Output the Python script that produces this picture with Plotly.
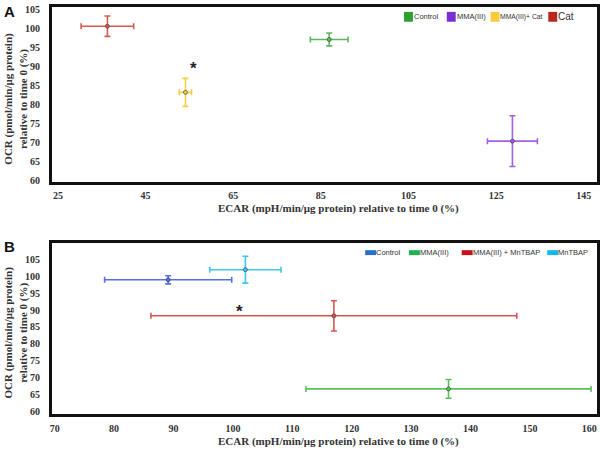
import plotly.graph_objects as go

# ---------------- Panel A data ----------------
a_names = ["Control", "MMA(III)", "MMA(III)+ Cat", "Cat"]
a_ecar = [86.9, 128.7, 54.1, 36.3]
a_ecar_err = [4.3, 5.7, 1.4, 6.0]
a_ocr = [97.2, 70.3, 83.2, 100.7]
a_ocr_err = [1.7, 6.7, 3.7, 2.7]
a_xticks = [25, 45, 65, 85, 105, 125, 145]
a_yticks = [60, 65, 70, 75, 80, 85, 90, 95, 100, 105]
a_sig_x = [56.0]
a_sig_y = [90.3]

# ---------------- Panel B data ----------------
b_names = ["Control", "MMA(III)", "MMA(III) + MnTBAP", "MnTBAP"]
b_ecar = [89.1, 136.3, 117.0, 102.1]
b_ecar_err = [10.7, 24.0, 30.8, 6.0]
b_ocr = [99.0, 66.6, 88.3, 102.0]
b_ocr_err = [1.2, 2.8, 4.5, 4.0]
b_xticks = [70, 80, 90, 100, 110, 120, 130, 140, 150, 160]
b_yticks = [60, 65, 70, 75, 80, 85, 90, 95, 100, 105]
b_sig_x = [101.1]
b_sig_y = [90.6]

a_line_colors = ["#5cb85c", "#a35ee8", "#f3cf45", "#d45a50"]
a_legend_colors = ["#2e9e2e", "#7a2fd6", "#ffc83d", "#b8281e"]
b_line_colors = ["#5470e6", "#5cc05c", "#d9534f", "#3cc8f0"]
b_legend_colors = ["#2a6fc8", "#1db34a", "#c8101a", "#18b4f0"]

W, H = 600, 453
def px(x):
    return x / W
def py(y):
    return 1 - y / H

fig = go.Figure()

for i, n in enumerate(a_names):
    fig.add_trace(go.Scatter(
        x=[a_ecar[i]], y=[a_ocr[i]], mode="markers", name=n, showlegend=False,
        marker=dict(color=a_line_colors[i], size=4, line=dict(color="#333", width=0.6)),
        error_x=dict(type="data", array=[a_ecar_err[i]], color=a_line_colors[i], thickness=1.6, width=3),
        error_y=dict(type="data", array=[a_ocr_err[i]], color=a_line_colors[i], thickness=1.6, width=3),
        xaxis="x", yaxis="y"))

for i, n in enumerate(b_names):
    fig.add_trace(go.Scatter(
        x=[b_ecar[i]], y=[b_ocr[i]], mode="markers", name=n, showlegend=False,
        marker=dict(color=b_line_colors[i], size=4, line=dict(color="#333", width=0.6)),
        error_x=dict(type="data", array=[b_ecar_err[i]], color=b_line_colors[i], thickness=1.6, width=3),
        error_y=dict(type="data", array=[b_ocr_err[i]], color=b_line_colors[i], thickness=1.6, width=3),
        xaxis="x2", yaxis="y2"))

tickfont = dict(family="Liberation Serif", size=10, color="#333", weight="bold")
axcommon = dict(showgrid=False, zeroline=False, showline=True, linecolor="#111", linewidth=2.5,
                mirror=True, ticks="", tickfont=tickfont)

fig.update_layout(
    width=W, height=H, margin=dict(l=0, r=0, t=0, b=0),
    paper_bgcolor="white", plot_bgcolor="white",
    xaxis=dict(domain=[px(50), px(598)], range=[23.6, 148], tickvals=a_xticks, anchor="y",
               ticklabelstandoff=3, **axcommon),
    yaxis=dict(domain=[py(182), py(5)], range=[59.6, 105.8], tickvals=a_yticks, anchor="x",
               ticklabelstandoff=7, **axcommon),
    xaxis2=dict(domain=[px(50), px(598)], range=[69.5, 161.3], tickvals=b_xticks, anchor="y2",
                ticklabelstandoff=3, **axcommon),
    yaxis2=dict(domain=[py(418), py(244)], range=[59.0, 110.0], tickvals=b_yticks, anchor="x2",
                ticklabelstandoff=7, **axcommon),
)

ann = []
shapes = []
title_font = dict(family="Liberation Serif", size=11, color="#333", weight="bold")
xtitle = "ECAR (mpH/min/μg protein) relative to time 0 (%)"
ytitle = "OCR (pmol/min/μg protein)<br>relative to time 0 (%)"
for (xt, yt) in [(209, 98), (445, 335)]:
    ann.append(dict(text=xtitle, x=px(338), y=py(xt), xref="paper", yref="paper",
                    showarrow=False, font=title_font, xanchor="center", yanchor="middle"))
    ann.append(dict(text=ytitle, x=px(14), y=py(yt), xref="paper", yref="paper", textangle=-90,
                    showarrow=False, font=title_font, xanchor="center", yanchor="middle"))

# panel labels
for lab, yy in [("A", 10), ("B", 248)]:
    ann.append(dict(text=lab, x=px(0), y=py(yy), xref="paper", yref="paper", showarrow=False,
                    font=dict(family="Liberation Sans", size=15, color="#111", weight="bold"),
                    xanchor="left", yanchor="middle"))

# significance stars
ann.append(dict(text="*", x=a_sig_x[0], y=a_sig_y[0], xref="x", yref="y", showarrow=False,
                font=dict(family="Liberation Sans", size=17, color="#222", weight="bold"), yshift=-3))
ann.append(dict(text="*", x=b_sig_x[0], y=b_sig_y[0], xref="x2", yref="y2", showarrow=False,
                font=dict(family="Liberation Sans", size=17, color="#222", weight="bold"), yshift=-3))

# legend A
a_sq = [404, 447, 491, 549]
a_sizes = [7.5, 7.5, 6.8, 10]
for i, n in enumerate(a_names):
    shapes.append(dict(type="rect", xref="paper", yref="paper", x0=px(a_sq[i]), x1=px(a_sq[i] + 9),
                       y0=py(20), y1=py(10), fillcolor=a_legend_colors[i], line=dict(width=0)))
    ann.append(dict(text=n, x=px(a_sq[i] + 10), y=py(15), xref="paper", yref="paper", showarrow=False,
                    font=dict(family="Liberation Sans", size=a_sizes[i], color="#333"),
                    xanchor="left", yanchor="middle", xshift=-2))

# legend B
b_sq = [365, 409, 462, 548]
for i, n in enumerate(b_names):
    shapes.append(dict(type="rect", xref="paper", yref="paper", x0=px(b_sq[i]), x1=px(b_sq[i] + 11),
                       y0=py(256.5), y1=py(251.5), fillcolor=b_legend_colors[i], line=dict(width=0)))
    ann.append(dict(text=n, x=px(b_sq[i] + 11), y=py(254), xref="paper", yref="paper", showarrow=False,
                    font=dict(family="Liberation Sans", size=7.5, color="#333"),
                    xanchor="left", yanchor="middle", xshift=-2))

fig.update_layout(annotations=ann, shapes=shapes)
fig.write_html("out.html", config={"displayModeBar": False},
               post_script="document.body.style.margin='0';document.body.style.padding='0';document.body.style.overflow='hidden';")
